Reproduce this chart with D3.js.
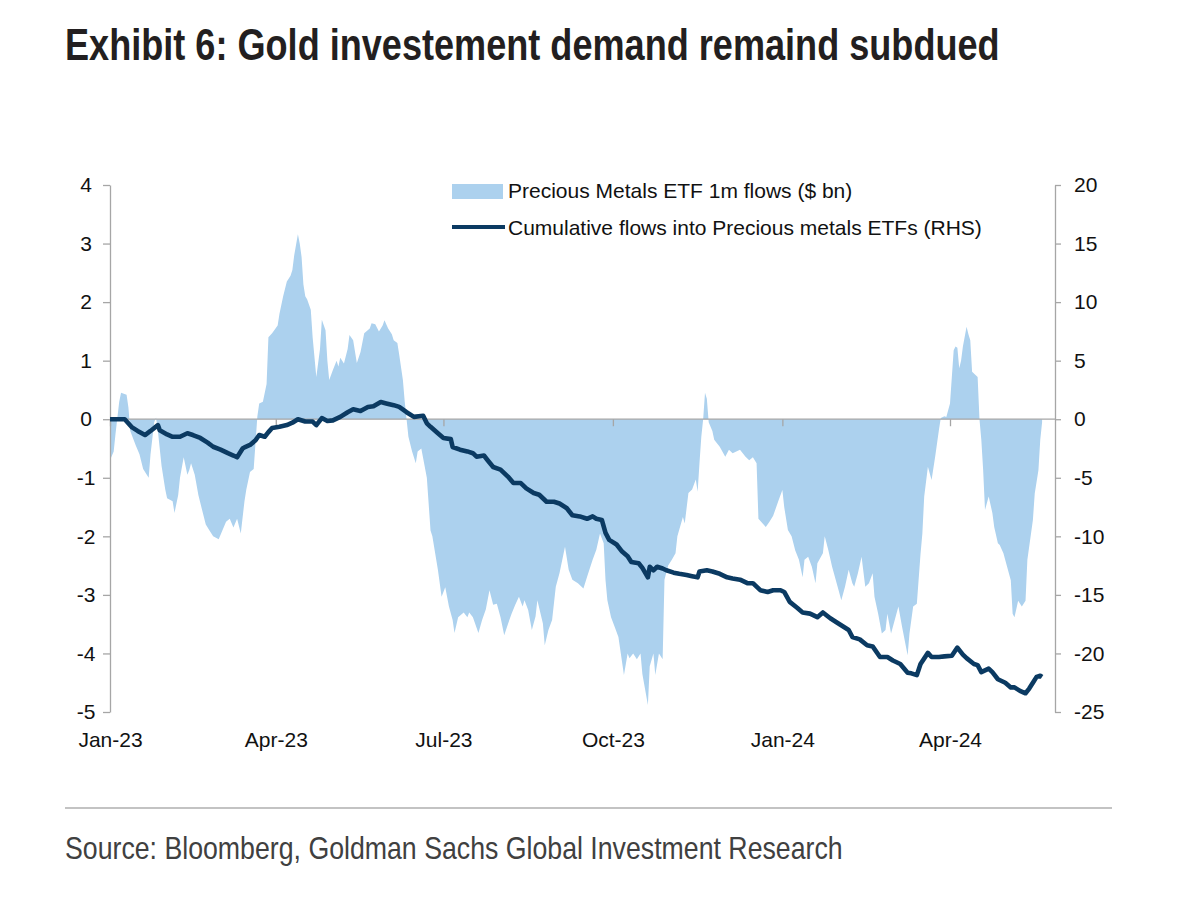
<!DOCTYPE html>
<html><head><meta charset="utf-8">
<script src="https://cdn.jsdelivr.net/npm/d3@7"></script>
<style>body{margin:0;background:#fff}</style>
</head><body><svg id="c" width="1179" height="903"></svg>
<script>
const flowDates = ["2023-01-01","2023-01-03","2023-01-04","2023-01-06","2023-01-07","2023-01-10","2023-01-11","2023-01-12","2023-01-15","2023-01-17","2023-01-19","2023-01-22","2023-01-23","2023-01-25","2023-01-26","2023-01-27","2023-01-29","2023-01-31","2023-02-01","2023-02-04","2023-02-05","2023-02-07","2023-02-08","2023-02-10","2023-02-12","2023-02-13","2023-02-14","2023-02-16","2023-02-18","2023-02-20","2023-02-22","2023-02-24","2023-02-26","2023-03-01","2023-03-03","2023-03-05","2023-03-07","2023-03-09","2023-03-11","2023-03-13","2023-03-15","2023-03-16","2023-03-18","2023-03-20","2023-03-21","2023-03-22","2023-03-23","2023-03-25","2023-03-27","2023-03-28","2023-03-30","2023-04-02","2023-04-03","2023-04-05","2023-04-07","2023-04-09","2023-04-10","2023-04-11","2023-04-13","2023-04-14","2023-04-15","2023-04-16","2023-04-17","2023-04-18","2023-04-20","2023-04-21","2023-04-22","2023-04-23","2023-04-25","2023-04-26","2023-04-28","2023-04-29","2023-04-30","2023-05-02","2023-05-04","2023-05-05","2023-05-06","2023-05-08","2023-05-10","2023-05-11","2023-05-13","2023-05-15","2023-05-17","2023-05-19","2023-05-22","2023-05-23","2023-05-25","2023-05-27","2023-05-29","2023-05-30","2023-06-01","2023-06-03","2023-06-04","2023-06-06","2023-06-07","2023-06-09","2023-06-10","2023-06-11","2023-06-12","2023-06-14","2023-06-16","2023-06-17","2023-06-19","2023-06-22","2023-06-24","2023-06-25","2023-06-28","2023-06-30","2023-07-02","2023-07-04","2023-07-06","2023-07-07","2023-07-09","2023-07-12","2023-07-14","2023-07-15","2023-07-17","2023-07-20","2023-07-22","2023-07-24","2023-07-26","2023-07-28","2023-07-30","2023-08-01","2023-08-03","2023-08-05","2023-08-07","2023-08-09","2023-08-11","2023-08-13","2023-08-14","2023-08-16","2023-08-18","2023-08-20","2023-08-21","2023-08-24","2023-08-25","2023-08-27","2023-08-29","2023-08-31","2023-09-02","2023-09-05","2023-09-07","2023-09-09","2023-09-12","2023-09-15","2023-09-17","2023-09-20","2023-09-22","2023-09-24","2023-09-26","2023-09-27","2023-09-28","2023-09-30","2023-10-02","2023-10-04","2023-10-07","2023-10-09","2023-10-10","2023-10-12","2023-10-14","2023-10-16","2023-10-17","2023-10-20","2023-10-21","2023-10-23","2023-10-24","2023-10-26","2023-10-28","2023-10-29","2023-10-31","2023-11-02","2023-11-04","2023-11-05","2023-11-08","2023-11-09","2023-11-11","2023-11-13","2023-11-15","2023-11-16","2023-11-17","2023-11-18","2023-11-19","2023-11-20","2023-11-21","2023-11-22","2023-11-24","2023-11-25","2023-11-28","2023-12-01","2023-12-03","2023-12-05","2023-12-09","2023-12-12","2023-12-14","2023-12-16","2023-12-18","2023-12-19","2023-12-23","2023-12-25","2023-12-27","2023-12-30","2024-01-01","2024-01-02","2024-01-04","2024-01-06","2024-01-08","2024-01-10","2024-01-12","2024-01-13","2024-01-15","2024-01-17","2024-01-19","2024-01-20","2024-01-23","2024-01-24","2024-01-26","2024-01-28","2024-01-31","2024-02-02","2024-02-04","2024-02-06","2024-02-08","2024-02-09","2024-02-11","2024-02-13","2024-02-15","2024-02-17","2024-02-19","2024-02-20","2024-02-22","2024-02-24","2024-02-26","2024-02-27","2024-02-29","2024-03-02","2024-03-04","2024-03-06","2024-03-09","2024-03-10","2024-03-12","2024-03-14","2024-03-16","2024-03-17","2024-03-18","2024-03-20","2024-03-22","2024-03-24","2024-03-26","2024-03-27","2024-03-29","2024-03-30","2024-04-01","2024-04-03","2024-04-04","2024-04-05","2024-04-06","2024-04-07","2024-04-08","2024-04-10","2024-04-11","2024-04-12","2024-04-13","2024-04-15","2024-04-16","2024-04-17","2024-04-18","2024-04-19","2024-04-20","2024-04-22","2024-04-24","2024-04-25","2024-04-27","2024-04-28","2024-04-30","2024-05-02","2024-05-04","2024-05-05","2024-05-06","2024-05-08","2024-05-10","2024-05-12","2024-05-13","2024-05-16","2024-05-17","2024-05-19","2024-05-20","2024-05-21"];
const flowValues = [-0.70,-0.55,-0.25,0.30,0.45,0.42,0.20,-0.20,-0.45,-0.60,-0.85,-1.00,-0.60,-0.05,0.03,-0.20,-0.80,-1.20,-1.35,-1.40,-1.60,-1.30,-1.00,-0.65,-0.95,-0.87,-0.75,-0.95,-1.30,-1.55,-1.80,-1.90,-2.00,-2.05,-1.90,-1.75,-1.70,-1.85,-1.70,-1.95,-1.40,-1.20,-0.90,-0.85,-0.40,0.05,0.27,0.30,0.60,1.40,1.47,1.60,1.80,2.10,2.35,2.45,2.55,2.80,3.16,3.00,2.77,2.30,2.10,2.05,1.87,1.40,1.06,0.72,1.20,1.70,1.52,1.00,0.67,0.84,1.00,0.90,1.05,0.95,1.20,1.44,1.35,0.96,1.15,1.47,1.55,1.64,1.62,1.50,1.60,1.69,1.55,1.45,1.35,1.30,1.10,0.67,0.30,0.00,-0.30,-0.55,-0.75,-0.55,-0.50,-1.00,-1.90,-2.00,-2.57,-3.03,-2.87,-3.20,-3.43,-3.65,-3.38,-3.30,-3.38,-3.30,-3.38,-3.65,-3.43,-3.25,-2.92,-3.17,-3.15,-3.38,-3.69,-3.50,-3.32,-3.17,-3.03,-3.20,-3.09,-3.26,-3.60,-3.37,-3.09,-3.49,-3.86,-3.60,-3.43,-2.86,-2.63,-2.18,-2.57,-2.74,-2.80,-2.89,-2.69,-2.40,-2.23,-1.95,-2.12,-2.75,-3.09,-3.38,-3.55,-3.72,-4.37,-4.00,-4.08,-4.00,-4.10,-4.00,-4.35,-4.88,-4.22,-4.00,-4.37,-4.00,-4.10,-2.74,-2.50,-2.40,-2.29,-2.00,-1.67,-1.78,-1.26,-1.20,-1.03,-1.24,-0.75,-0.30,0.00,0.45,0.35,-0.05,-0.20,-0.35,-0.47,-0.64,-0.52,-0.58,-0.52,-0.64,-0.70,-0.65,-0.75,-1.70,-1.84,-1.75,-1.65,-1.38,-1.21,-1.50,-1.89,-2.00,-2.24,-2.40,-2.70,-2.40,-2.35,-2.52,-2.80,-2.46,-2.29,-2.00,-2.24,-2.52,-2.86,-3.09,-2.86,-2.57,-2.80,-2.86,-2.63,-2.35,-2.86,-2.80,-2.63,-3.03,-3.32,-3.66,-3.60,-3.32,-3.66,-3.43,-3.20,-3.55,-4.03,-3.66,-3.20,-3.15,-2.30,-1.95,-1.32,-0.81,-1.04,-0.63,-0.18,0.02,0.05,0.04,0.27,1.18,1.24,1.22,0.87,1.00,1.24,1.58,1.45,1.35,0.81,0.75,0.72,0.00,-0.35,-0.87,-1.55,-1.32,-1.60,-1.84,-2.12,-2.15,-2.29,-2.52,-2.75,-3.32,-3.38,-3.10,-3.20,-3.10,-2.40,-1.72,-1.27,-0.87,-0.35,-0.05];
const cumDates = ["2023-01-01","2023-01-09","2023-01-13","2023-01-16","2023-01-20","2023-01-23","2023-01-27","2023-01-28","2023-02-01","2023-02-04","2023-02-08","2023-02-12","2023-02-15","2023-02-19","2023-02-23","2023-02-26","2023-03-02","2023-03-06","2023-03-09","2023-03-11","2023-03-14","2023-03-15","2023-03-18","2023-03-21","2023-03-23","2023-03-26","2023-03-28","2023-03-30","2023-04-03","2023-04-07","2023-04-10","2023-04-13","2023-04-17","2023-04-21","2023-04-23","2023-04-26","2023-04-29","2023-05-02","2023-05-06","2023-05-10","2023-05-13","2023-05-17","2023-05-21","2023-05-24","2023-05-28","2023-05-31","2023-06-04","2023-06-07","2023-06-11","2023-06-15","2023-06-20","2023-06-22","2023-06-24","2023-06-28","2023-07-01","2023-07-05","2023-07-06","2023-07-10","2023-07-14","2023-07-17","2023-07-19","2023-07-23","2023-07-25","2023-07-28","2023-08-01","2023-08-05","2023-08-08","2023-08-12","2023-08-15","2023-08-19","2023-08-22","2023-08-26","2023-08-30","2023-09-02","2023-09-06","2023-09-09","2023-09-13","2023-09-17","2023-09-20","2023-09-22","2023-09-25","2023-09-27","2023-09-29","2023-10-03","2023-10-06","2023-10-09","2023-10-11","2023-10-15","2023-10-17","2023-10-20","2023-10-21","2023-10-23","2023-10-25","2023-10-28","2023-10-30","2023-11-03","2023-11-06","2023-11-10","2023-11-13","2023-11-16","2023-11-17","2023-11-21","2023-11-24","2023-11-28","2023-12-02","2023-12-05","2023-12-09","2023-12-13","2023-12-16","2023-12-20","2023-12-24","2023-12-27","2023-12-31","2024-01-02","2024-01-05","2024-01-09","2024-01-12","2024-01-16","2024-01-20","2024-01-23","2024-01-27","2024-01-31","2024-02-03","2024-02-06","2024-02-08","2024-02-12","2024-02-16","2024-02-19","2024-02-23","2024-02-27","2024-03-01","2024-03-05","2024-03-09","2024-03-11","2024-03-14","2024-03-16","2024-03-20","2024-03-22","2024-03-26","2024-03-29","2024-04-02","2024-04-05","2024-04-08","2024-04-10","2024-04-14","2024-04-16","2024-04-18","2024-04-22","2024-04-24","2024-04-27","2024-05-01","2024-05-04","2024-05-06","2024-05-09","2024-05-12","2024-05-14","2024-05-16","2024-05-18","2024-05-20","2024-05-21"];
const cumValues = [0,0,-0.7,-1.0,-1.35,-1.0,-0.5,-0.95,-1.3,-1.5,-1.5,-1.2,-1.35,-1.6,-2.0,-2.35,-2.6,-2.9,-3.1,-3.25,-2.5,-2.4,-2.2,-1.8,-1.35,-1.5,-1.1,-0.75,-0.65,-0.5,-0.3,0.0,-0.2,-0.2,-0.5,0.1,-0.15,-0.1,0.2,0.6,0.85,0.7,1.04,1.1,1.47,1.35,1.2,1.05,0.6,0.2,0.3,-0.35,-0.65,-1.2,-1.6,-1.7,-2.37,-2.6,-2.75,-2.9,-3.2,-3.1,-3.5,-4.08,-4.3,-4.9,-5.45,-5.45,-5.9,-6.3,-6.45,-7.05,-7.05,-7.2,-7.6,-8.2,-8.3,-8.5,-8.3,-8.5,-8.6,-9.7,-10.3,-10.7,-11.3,-11.7,-12.2,-12.3,-12.7,-13.5,-12.6,-12.9,-12.6,-12.75,-12.9,-13.1,-13.2,-13.3,-13.4,-13.5,-13.0,-12.9,-13.0,-13.2,-13.5,-13.6,-13.7,-14.0,-14.0,-14.6,-14.75,-14.6,-14.6,-14.75,-15.6,-16.1,-16.5,-16.6,-16.9,-16.5,-17.0,-17.4,-17.7,-18.0,-18.6,-18.8,-19.3,-19.4,-20.3,-20.3,-20.6,-20.9,-21.65,-21.7,-21.85,-20.9,-19.95,-20.3,-20.3,-20.25,-20.2,-19.5,-20.1,-20.4,-20.9,-21.0,-21.6,-21.3,-21.6,-22.2,-22.5,-22.9,-22.9,-23.2,-23.4,-23.0,-22.5,-22.0,-21.9,-22.0];
const leftTicks = [4,3,2,1,0,-1,-2,-3,-4,-5];
const rightTicks = [20,15,10,5,0,-5,-10,-15,-20,-25];
const xTickDates = ["2023-01-01","2023-04-01","2023-07-01","2023-10-01","2024-01-01","2024-04-01"];
const xTickLabels = ["Jan-23","Apr-23","Jul-23","Oct-23","Jan-24","Apr-24"];
const legendLabels = ["Precious Metals ETF 1m flows ($ bn)","Cumulative flows into Precious metals ETFs (RHS)"];
const titleText = "Exhibit 6: Gold investement demand remaind subdued";
const sourceText = "Source: Bloomberg, Goldman Sachs Global Investment Research";

const areaColor = "#acd1ee", lineColor = "#0b3a62", axisColor = "#a6a6a6";
const font = "'Liberation Sans', Arial, sans-serif";

const parse = d3.utcParse("%Y-%m-%d");
const flows = flowDates.map((d,i)=>({date:parse(d), v:flowValues[i]}));
const cum = cumDates.map((d,i)=>({date:parse(d), v:cumValues[i]}));

const svg = d3.select("#c");
svg.append("rect").attr("width",1179).attr("height",903).attr("fill","#fff");

const x = d3.scaleUtc().domain([parse("2023-01-01"), parse("2024-05-28")]).range([110,1055]);
const yL = d3.scaleLinear().domain([-5,4]).range([712,185]);
const yR = d3.scaleLinear().domain([-25,20]).range([712,185]);

// condensed text by horizontal scaling
function condensed(txt, x0, y0, width, size, weight, fill){
  const t = svg.append("text").text(txt).attr("font-family",font)
    .attr("font-weight",weight).attr("font-size",size).attr("fill",fill);
  const w = t.node().getComputedTextLength();
  t.attr("transform",`translate(${x0},${y0}) scale(${width/w},1)`);
  return t;
}
condensed(titleText, 65, 60, 935, 45, "bold", "#231f20");

// area
svg.append("path").datum(flows)
  .attr("d", d3.area().x(d=>x(d.date)).y0(yL(0)).y1(d=>yL(d.v)))
  .attr("fill", areaColor);

// zero line with quarter ticks
svg.append("line").attr("x1",110).attr("x2",1055).attr("y1",yL(0)).attr("y2",yL(0))
  .attr("stroke",axisColor).attr("stroke-width",1.3);
const xt = svg.append("g").attr("transform",`translate(0,${yL(0)})`)
  .call(d3.axisBottom(x).tickValues(xTickDates.map(parse)).tickSize(7).tickSizeOuter(0).tickFormat(""));
xt.select(".domain").remove();
xt.selectAll("line").attr("stroke",axisColor).attr("stroke-width",1.3);

// x labels
const xl = svg.append("g").attr("transform","translate(0,729)")
  .call(d3.axisBottom(x).tickValues(xTickDates.map(parse)).tickSize(0).tickPadding(3)
    .tickFormat((d,i)=>xTickLabels[i]));
xl.select(".domain").remove();
xl.selectAll("text").attr("font-family",font).attr("font-size",21).attr("fill","#111");

// left axis
const la = svg.append("g").attr("transform","translate(110,0)")
  .call(d3.axisLeft(yL).tickValues(leftTicks).tickSize(7).tickSizeOuter(0).tickFormat(d=>String(d)));
la.select(".domain").attr("stroke",axisColor).attr("stroke-width",1.3);
la.selectAll("line").attr("stroke",axisColor).attr("stroke-width",1.3);
la.selectAll("text").attr("font-family",font).attr("font-size",21).attr("fill","#111")
  .attr("text-anchor","middle").attr("x",-24);

// right axis
const ra = svg.append("g").attr("transform","translate(1055,0)")
  .call(d3.axisRight(yR).tickValues(rightTicks).tickSize(6).tickSizeOuter(0).tickFormat(d=>String(d)));
ra.select(".domain").attr("stroke",axisColor).attr("stroke-width",1.3);
ra.selectAll("line").attr("stroke",axisColor).attr("stroke-width",1.3);
ra.selectAll("text").attr("font-family",font).attr("font-size",21).attr("fill","#111")
  .attr("text-anchor","start").attr("x",19);

// cumulative line
svg.append("path").datum(cum)
  .attr("d", d3.line().x(d=>x(d.date)).y(d=>yR(d.v)))
  .attr("fill","none").attr("stroke",lineColor).attr("stroke-width",4.6)
  .attr("stroke-linejoin","round").attr("stroke-linecap","butt");

// legend
const lg = svg.append("g");
lg.append("rect").attr("x",452).attr("y",184).attr("width",51).attr("height",15).attr("fill",areaColor);
lg.append("line").attr("x1",452).attr("x2",505).attr("y1",227).attr("y2",227)
  .attr("stroke",lineColor).attr("stroke-width",4);
lg.selectAll("text.lt").data(legendLabels).enter().append("text")
  .attr("x",508).attr("y",(d,i)=>i===0?198:235).text(d=>d)
  .attr("font-family",font).attr("font-size",21).attr("fill","#111");

// separator + source
svg.append("line").attr("x1",65).attr("x2",1112).attr("y1",808).attr("y2",808)
  .attr("stroke","#c3c3c3").attr("stroke-width",2);
condensed(sourceText, 65, 859, 778, 31, "normal", "#404040");
</script>
</body></html>
